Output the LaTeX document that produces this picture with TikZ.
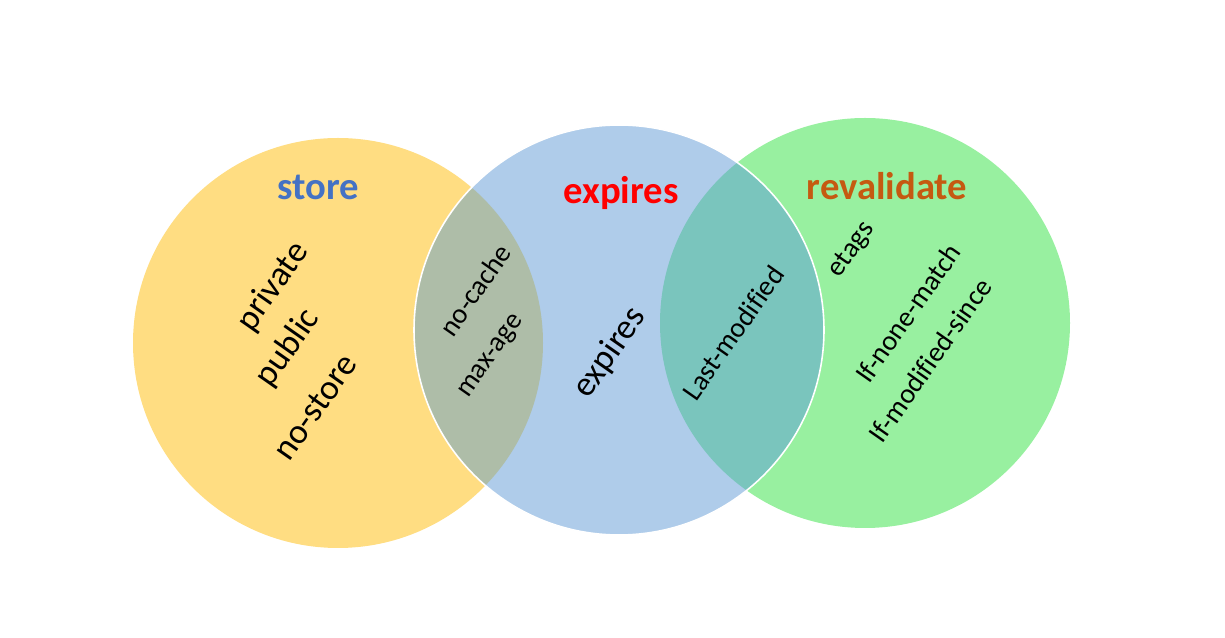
\documentclass[tikz,border=0pt]{standalone}
\usepackage{fontspec}
\setmainfont{Carlito}[Ligatures=NoCommon]
\definecolor{storefill}{RGB}{255,221,130}
\definecolor{expfill}{RGB}{175,204,234}
\definecolor{revfill}{RGB}{152,240,160}
\definecolor{lensA}{RGB}{174,189,168}
\definecolor{lensB}{RGB}{122,197,189}
\definecolor{storetitle}{RGB}{68,114,196}
\definecolor{revtitle}{RGB}{197,90,17}
\tikzset{
    title/.style={font=\bfseries\fontsize{22}{26}\selectfont, anchor=base},
    bigtag/.style={font=\fontsize{20}{24}\selectfont, rotate=55},
    tag/.style={font=\fontsize{16}{19}\selectfont, rotate=55}
}
\begin{document}
\begin{tikzpicture}
    \useasboundingbox (0, 0) rectangle (24.5, 12.76);
    \fill[storefill] (6.76, 5.90) circle (4.1);
    \fill[revfill] (17.30, 6.30) circle (4.1);
    \fill[expfill] (12.38, 6.16) circle (4.1);
    \begin{scope}
        \clip (6.76, 5.90) circle (4.1);
        \fill[lensA] (12.38, 6.16) circle (4.1);
    \end{scope}
    \begin{scope}
        \clip (17.30, 6.30) circle (4.1);
        \fill[lensB] (12.38, 6.16) circle (4.1);
    \end{scope}
    \draw[white, line width=0.9pt] (12.38, 6.16) circle (4.1);

    \node[title, text=storetitle] (store) at (6.36, 8.76) {store};
    \node[title, text=red] (expires) at (12.42, 8.68) {expires};
    \node[title, text=revtitle] (revalidate) at (17.74, 8.76) {revalidate};

    \node[bigtag] (private) at (5.46, 7.02) {private};
    \node[bigtag] (public) at (5.76, 5.80) {public};
    \node[bigtag] (nostore) at (6.30, 4.62) {no-store};

    \node[tag] (nocache) at (9.50, 6.96) {no-cache};
    \node[tag] (maxage) at (9.84, 5.62) {max-age};

    \node[bigtag] (expval) at (12.20, 5.70) {expires};

    \node[tag] (lastmod) at (14.66, 6.10) {Last-modified};

    \node[tag] (etags) at (17.04, 7.76) {etags};
    \node[tag] (nonematch) at (18.16, 6.50) {If-none-match};
    \node[tag] (modsince) at (18.60, 5.56) {If-modified-since};
\end{tikzpicture}
\end{document}
